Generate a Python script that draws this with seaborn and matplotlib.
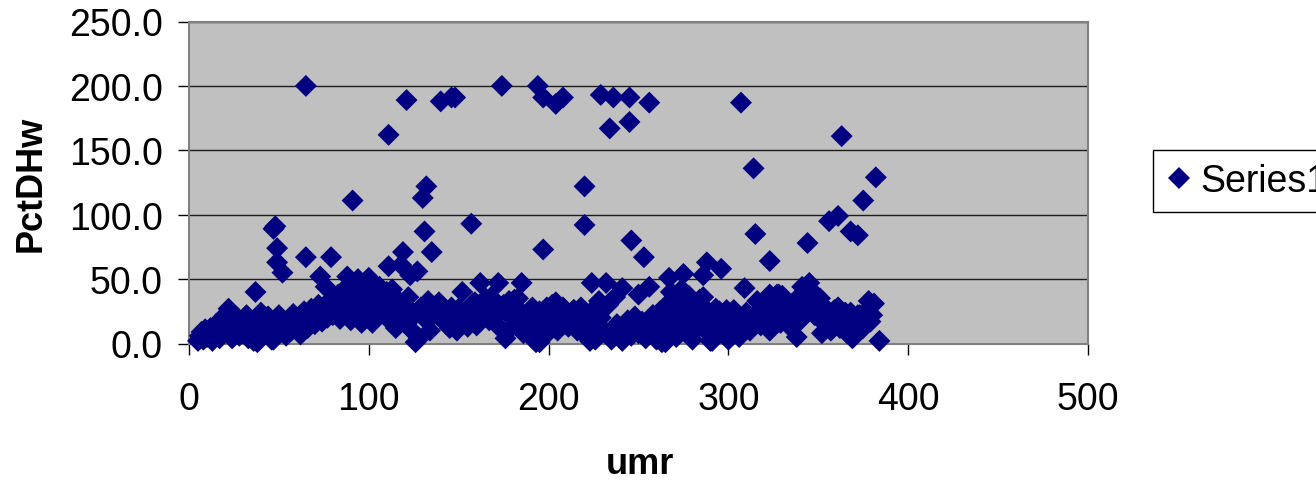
import pandas as pd
import seaborn as sns
import matplotlib
matplotlib.use('Agg')
import matplotlib.pyplot as plt

# high values, read one by one
top_x = [65, 111, 121, 140, 146, 148, 174, 194, 197, 204, 208, 229, 234, 236, 245, 245, 256, 307,
         314, 363, 382, 375, 91, 132, 130, 131, 135, 119, 157, 220, 220, 197, 246, 253, 315, 323,
         344, 356, 361, 368, 372, 48, 47, 49, 49, 52, 37, 65, 79, 73]
top_y = [200, 162, 189, 188, 191, 191, 200, 200, 191, 186, 191, 193, 167, 191, 191, 172, 187, 187,
         136, 161, 129, 111, 111, 122, 113, 87, 71, 71, 93, 122, 92, 73, 80, 67, 85, 64,
         78, 95, 99, 87, 84, 91, 89, 74, 63, 55, 40, 67, 67, 52]

mid_x = [111, 118, 127, 123, 88, 100, 94, 152, 162, 172, 185, 224, 232, 241, 256, 250, 267, 275,
         286, 288, 296, 309, 345, 341, 378, 381, 76, 85, 91, 106, 113, 103, 133, 137, 168, 178,
         228, 237, 274, 278, 272, 284, 330, 326, 351]
mid_y = [60, 61, 56, 53, 52, 51, 50, 40, 47, 47, 47, 47, 47, 43, 44, 38, 51, 54,
         53, 63, 58, 43, 47, 44, 33, 31, 44, 40, 46, 44, 42, 38, 33, 29, 36, 33,
         33, 36, 42, 37, 30, 34, 37, 33, 35]

# the dense band near the axis
low_x = [5, 6, 7, 8, 9, 10, 11, 12, 13, 14, 15, 16, 17, 18, 19, 20, 21, 22, 23, 24, 25, 27, 28, 30, 31,
         32, 33, 35, 36, 38, 39, 40, 41, 42, 44, 46, 47, 50, 52, 54, 55, 57, 58, 60, 62, 63, 64, 66,
         67, 68, 70, 71, 72, 74, 75, 77, 78, 80, 81, 83, 84, 86, 87, 89, 90, 92, 93, 95, 96, 98,
         99, 101, 102, 104, 105, 107, 108, 110, 112, 114, 115, 116, 118, 120, 122, 124, 125, 128, 129, 132,
         134, 136, 138, 141, 143, 145, 147, 149, 150, 153, 155, 157, 159, 160, 163, 165, 167, 169, 171, 173,
         175, 176, 178, 179, 181, 183, 184, 186, 188, 189, 191, 192, 193, 195, 196, 198, 199, 201, 202, 204,
         205, 207, 209, 211, 212, 214, 216, 217, 219, 221, 222, 224, 226, 227, 229, 231, 233, 235, 238, 240,
         241, 243, 244, 246, 248, 250, 252, 254, 255, 258, 260, 262, 263, 265, 266, 268, 269, 271, 273, 275,
         276, 277, 279, 280, 282, 283, 285, 287, 289, 291, 293, 295, 297, 298, 300, 302, 303, 305, 306, 308,
         310, 312, 314, 316, 318, 320, 322, 323, 325, 327, 329, 331, 333, 335, 337, 338, 340, 342, 344, 346,
         348, 350, 352, 353, 355, 357, 359, 361, 362, 364, 366, 368, 369, 371, 373, 375, 377, 379, 380]
low_y = [2, 6, 9, 3, 11, 5, 8, 12, 2, 7, 15, 10, 4, 18, 9, 22, 13, 27, 8, 16, 11, 20, 6, 14, 9,
         22, 4, 13, 18, 1, 10, 24, 15, 7, 21, 11, 3, 22, 14, 6, 17, 10, 23, 13, 7, 20, 25, 12,
         18, 27, 15, 22, 30, 17, 25, 20, 33, 22, 28, 38, 19, 34, 26, 30, 18, 38, 24, 32, 16, 41,
         22, 36, 16, 30, 40, 26, 34, 20, 38, 26, 12, 34, 23, 30, 17, 10, 22, 4, 28, 18,
         10, 22, 28, 18, 25, 12, 22, 10, 27, 20, 13, 26, 32, 14, 25, 35, 18, 28, 22, 12,
         30, 4, 22, 12, 34, 18, 25, 8, 15, 22, 28, 13, 1, 25, 18, 6, 28, 15, 22, 32,
         10, 18, 25, 13, 20, 26, 10, 18, 24, 6, 15, 25, 3, 13, 20, 10, 30, 3, 15, 8,
         2, 12, 18, 6, 13, 8, 17, 4, 11, 22, 3, 15, 8, 1, 18, 11, 25, 5, 15, 28,
         9, 35, 18, 3, 25, 12, 30, 20, 8, 2, 15, 25, 10, 20, 3, 18, 26, 10, 5, 15,
         20, 10, 17, 24, 14, 20, 32, 10, 25, 38, 16, 30, 22, 12, 27, 5, 18, 33, 25, 36,
         22, 30, 8, 16, 26, 10, 20, 28, 12, 20, 8, 24, 4, 14, 22, 12, 25, 17, 22]

edge_x = [126, 384, 195, 223, 263, 290, 24, 36, 46]
edge_y = [1, 2, 1, 2, 1, 2, 4, 2, 3]

# upper rim of the band
rim_x = [202, 265, 299, 323, 349, 359, 286, 258, 270, 310, 335, 110, 97, 122, 142, 158, 182, 214, 248, 293,
         139, 146, 155, 164, 170, 176, 183, 190, 208, 218, 226, 233, 252, 262, 268, 279, 292, 304, 316, 321,
         328, 339, 347, 354, 365, 372, 376]
rim_y = [30, 29, 26, 38, 33, 26, 36, 22, 33, 24, 28, 40, 36, 36, 24, 31, 28, 26, 21, 27,
         32, 28, 25, 33, 30, 26, 35, 24, 28, 28, 22, 30, 15, 25, 40, 28, 23, 24, 33, 20,
         38, 36, 40, 27, 24, 22, 24]

xs = top_x + mid_x + low_x + edge_x + rim_x
ys = top_y + mid_y + low_y + edge_y + rim_y
df = pd.DataFrame({'umr': xs, 'PctDHw': ys})
df['series'] = 'Series1'

sns.set_style('white')
plt.rcParams['font.family'] = ['Liberation Sans', 'DejaVu Sans']
plt.rcParams['text.color'] = '#000000'

fig = plt.figure(figsize=(13.16, 4.81), dpi=100)
ax = fig.add_axes([189 / 1316, 1 - 344.5 / 481, 899 / 1316, 322 / 481])
ax.set_facecolor('#c0c0c0')

sns.scatterplot(data=df, x='umr', y='PctDHw', hue='series', palette=['#000080'], marker='D',
                s=125, linewidth=0, clip_on=False, zorder=3, ax=ax)

ax.set_xlim(0, 500)
ax.set_ylim(0, 250)
ax.set_xticks([0, 100, 200, 300, 400, 500])
ax.set_yticks([0, 50, 100, 150, 200, 250])
ax.set_yticklabels(['0.0', '50.0', '100.0', '150.0', '200.0', '250.0'])
ax.grid(axis='y', color='#000000', lw=1, alpha=0.85)
ax.set_axisbelow(True)
ax.tick_params(axis='both', which='major', labelsize=27, length=8, width=1, color='#000000',
               labelcolor='#000000', left=True, bottom=True)
ax.tick_params(axis='y', pad=11)
ax.tick_params(axis='x', pad=19)
for s in ax.spines.values():
    s.set_color('#808080')
    s.set_linewidth(1.5)

ax.set_xlabel('umr', fontsize=26, fontweight='bold', color='#000000')
ax.set_ylabel('PctDHw', fontsize=26, fontweight='bold', color='#000000')
ax.xaxis.set_label_coords(451 / 899, -(447 - 344) / 322)
ax.yaxis.set_label_coords(-(189 - 49) / 899, 0.5)

handles, labels = ax.get_legend_handles_labels()
ax.get_legend().remove()
leg = fig.legend(handles, labels, loc='upper left', bbox_to_anchor=(1153 / 1316, 1 - 151 / 481),
                 borderaxespad=0, frameon=True, fancybox=False, edgecolor='#000000', framealpha=1,
                 fontsize=27, markerscale=1.0, handletextpad=0.21, borderpad=0.35, handlelength=0.7,
                 labelcolor='#000000')
leg.get_frame().set_linewidth(1)

fig.savefig('out.png', dpi=100)
